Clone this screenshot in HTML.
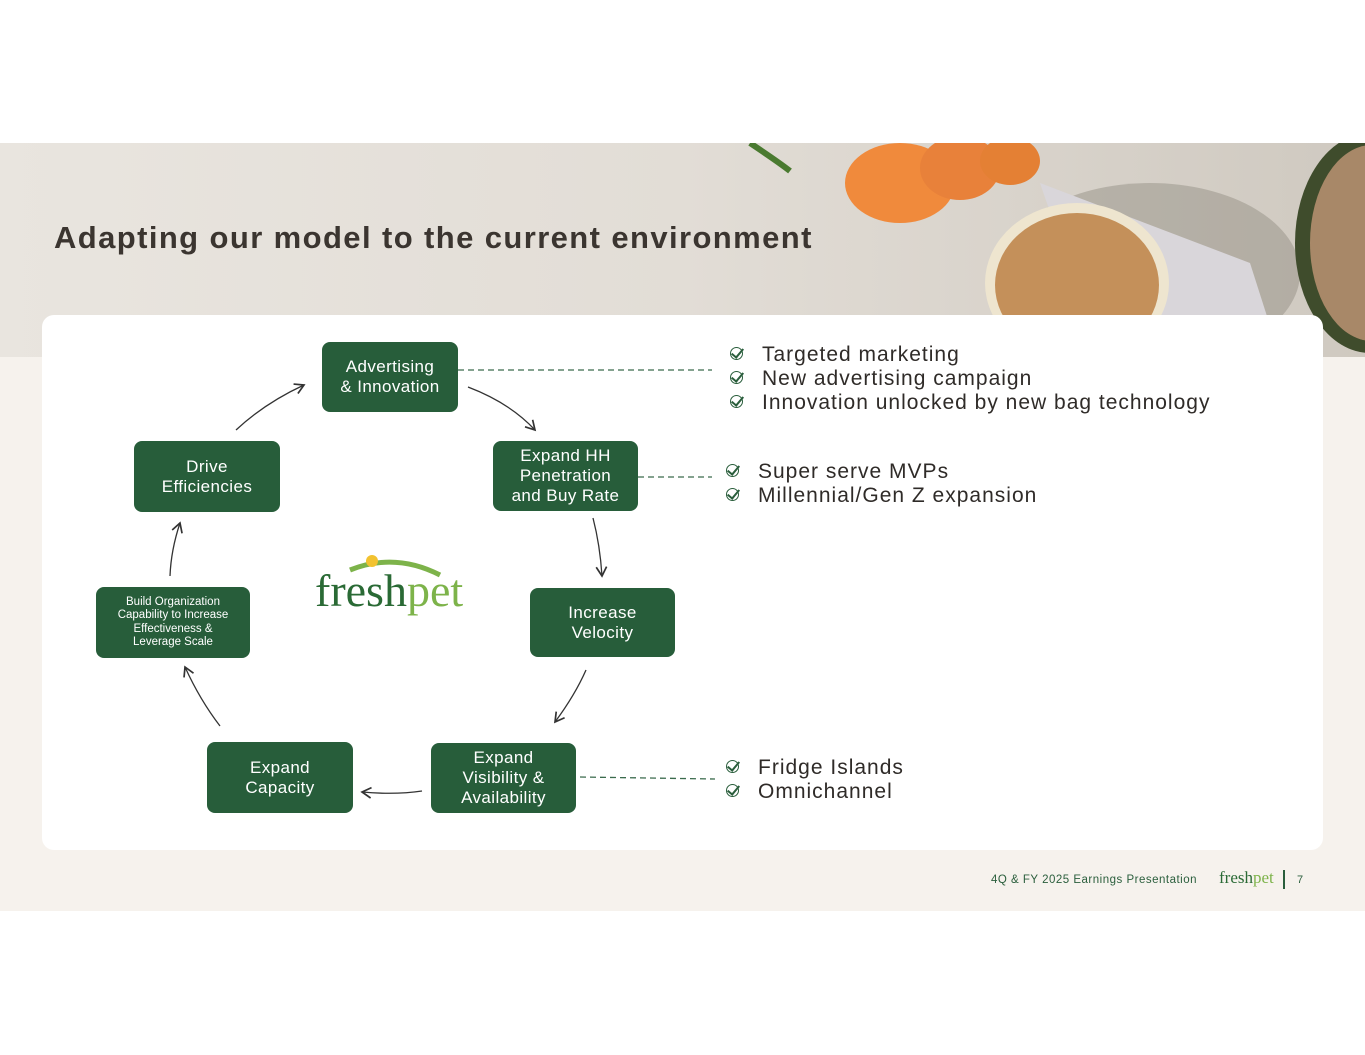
<!DOCTYPE html>
<html><head><meta charset="utf-8"><style>
body{margin:0;width:1365px;height:1055px;position:relative;background:#fff;font-family:"Liberation Sans",sans-serif;overflow:hidden}
.bg{position:absolute;left:0;top:357px;width:1365px;height:554px;background:#f6f2ed}
.ban{position:absolute;left:0;top:143px;width:1365px;height:214px;background:linear-gradient(90deg,#e9e5df 0%,#e2ddd6 50%,#cfc9c0 100%);overflow:hidden}
h1{position:absolute;left:54px;top:220px;margin:0;font-size:31px;font-weight:bold;color:#3b3530;letter-spacing:1.4px}
.card{position:absolute;left:42px;top:315px;width:1281px;height:535px;background:#fff;border-radius:12px}
.b{position:absolute;background:#275d3a;color:#fff;border-radius:8px;display:flex;align-items:center;justify-content:center;text-align:center;font-size:17px;line-height:20px;letter-spacing:.4px}
.t{position:absolute;font-size:21px;color:#2f2b28;line-height:24px;letter-spacing:1px}
.t div{position:relative;padding-left:32px}
.t div::before{content:"";position:absolute;left:0;top:4px;width:11px;height:11px;border:1.6px solid #2a5e3c;border-radius:50%}
.t div::after{content:"";position:absolute;left:4px;top:3px;width:5px;height:10px;border-right:2.2px solid #2a5e3c;border-bottom:2.2px solid #2a5e3c;transform:rotate(40deg)}
</style></head><body>
<div class="bg"></div>
<div class="ban">
<svg width="1365" height="214" style="position:absolute;left:0;top:0">
<ellipse cx="1150" cy="130" rx="150" ry="90" fill="#8f8a7e" opacity=".45"/>
<ellipse cx="900" cy="40" rx="55" ry="40" fill="#f08a3c"/>
<ellipse cx="960" cy="25" rx="40" ry="32" fill="#e8813a"/>
<ellipse cx="1010" cy="18" rx="30" ry="24" fill="#e48034"/>
<polygon points="1040,40 1250,120 1280,214 1100,214" fill="#d9d6da"/>
<ellipse cx="1077" cy="140" rx="92" ry="80" fill="#eee5cf"/>
<ellipse cx="1077" cy="142" rx="82" ry="72" fill="#c4905a"/>
<ellipse cx="1370" cy="100" rx="75" ry="110" fill="#3f4c2c"/>
<ellipse cx="1372" cy="100" rx="62" ry="98" fill="#a88868"/>
<path d="M750 0 Q780 20 790 28" stroke="#4a7a30" stroke-width="6" fill="none"/>
</svg></div>
<h1>Adapting our model to the current environment</h1>
<div class="card"></div>
<svg width="1365" height="1055" style="position:absolute;left:0;top:0">
<defs><marker id="a" markerWidth="10" markerHeight="10" refX="8" refY="5" orient="auto"><path d="M1 1 L8 5 L1 9" stroke="#333" fill="none" stroke-width="1.3"/></marker></defs>
<g stroke="#333" stroke-width="1.3" fill="none" marker-end="url(#a)">
<path d="M468 387 Q510 403 535 430"/>
<path d="M593 518 Q600 545 602 576"/>
<path d="M586 670 Q575 695 555 722"/>
<path d="M422 791 Q395 795 362 792"/>
<path d="M220 726 Q200 700 185 667"/>
<path d="M170 576 Q171 550 180 523"/>
<path d="M236 430 Q265 403 304 385"/>
</g>
<g stroke="#3a6a4c" stroke-width="1.3" stroke-dasharray="6,4">
<line x1="458" y1="370" x2="712" y2="370"/>
<line x1="638" y1="477" x2="712" y2="477"/>
<line x1="580" y1="777" x2="715" y2="779"/>
</g>
<path d="M350 570 Q395 552 440 575" stroke="#7db34a" stroke-width="5" fill="none"/>
<circle cx="372" cy="561" r="6" fill="#f2c230"/>
<text x="315" y="606" font-family="Liberation Serif,serif" font-size="46" fill="#2a6a35">fresh<tspan fill="#7db34a">pet</tspan></text>
</svg>
<div class="b" style="left:322px;top:342px;width:136px;height:70px">Advertising<br>&amp; Innovation</div>
<div class="b" style="left:493px;top:441px;width:145px;height:70px">Expand HH<br>Penetration<br>and Buy Rate</div>
<div class="b" style="left:530px;top:588px;width:145px;height:69px">Increase<br>Velocity</div>
<div class="b" style="left:431px;top:743px;width:145px;height:70px">Expand<br>Visibility &amp;<br>Availability</div>
<div class="b" style="left:207px;top:742px;width:146px;height:71px">Expand<br>Capacity</div>
<div class="b" style="left:96px;top:587px;width:154px;height:71px;font-size:11.5px;line-height:13.5px;letter-spacing:0">Build Organization<br>Capability to Increase<br>Effectiveness &amp;<br>Leverage Scale</div>
<div class="b" style="left:134px;top:441px;width:146px;height:71px">Drive<br>Efficiencies</div>
<div class="t" style="left:730px;top:343px"><div>Targeted marketing</div><div>New advertising campaign</div><div>Innovation unlocked by new bag technology</div></div>
<div class="t" style="left:726px;top:460px"><div>Super serve MVPs</div><div>Millennial/Gen Z expansion</div></div>
<div class="t" style="left:726px;top:756px"><div>Fridge Islands</div><div>Omnichannel</div></div>
<div style="position:absolute;left:991px;top:874px;font-size:11.5px;color:#2a5e3c;letter-spacing:.5px">4Q &amp; FY 2025 Earnings Presentation</div>
<div style="position:absolute;left:1219px;top:868px;font-size:17px;font-family:'Liberation Serif',serif;color:#2a6a35">fresh<span style="color:#7db34a">pet</span></div>
<div style="position:absolute;left:1283px;top:870px;width:2px;height:19px;background:#2a5e3c"></div>
<div style="position:absolute;left:1297px;top:874px;font-size:11px;color:#2a5e3c">7</div>
</body></html>
